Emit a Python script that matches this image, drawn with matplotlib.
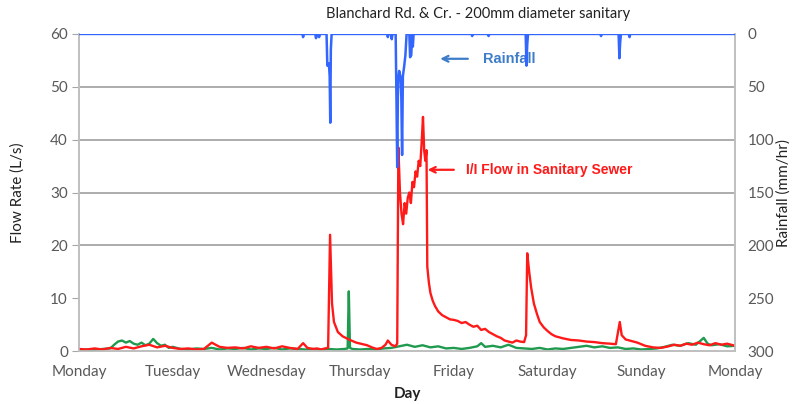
import matplotlib
matplotlib.use("Agg")
import matplotlib.pyplot as plt
import numpy as np

# (hours since Monday 00:00, flow L/s)
ii_flow = [
    (0, 0.4), (2, 0.3), (4, 0.5), (6, 0.3), (8, 0.6), (10, 0.4), (12, 0.8), (14, 0.5),
    (16, 0.9), (18, 1.2), (20, 0.7), (22, 1.0), (24, 0.6), (26, 0.4), (28, 0.5), (30, 0.3),
    (32, 0.4), (34, 1.6), (36, 0.8), (38, 0.6), (40, 0.7), (42, 0.5), (44, 0.9), (46, 0.6),
    (48, 0.8), (50, 0.5), (52, 0.9), (54, 0.6), (56, 0.4), (57.4, 1.5), (58.5, 0.6), (60, 0.4),
    (61, 0.5), (62, 0.3), (63, 0.5), (63.8, 0.6), (64.3, 22.0), (64.8, 9.0), (65.3, 5.5),
    (66.3, 3.6), (67.5, 2.8), (69.4, 2.1), (71, 1.6), (73.8, 1.1), (75, 0.7), (76.3, 0.4),
    (77.5, 0.6), (78.5, 1.2), (79.1, 2.0), (80.0, 1.2), (81.0, 0.9), (81.5, 1.4),
    (81.8, 38.5), (82.2, 30), (82.6, 26), (83.0, 24), (83.4, 28), (83.8, 26), (84.2, 29),
    (84.6, 30), (85.0, 28), (85.4, 32), (85.8, 31), (86.2, 34), (86.6, 33), (87.0, 36),
    (87.4, 35), (87.8, 40), (88.1, 44.3), (88.4, 38), (88.7, 36), (89.0, 38), (89.2, 16),
    (89.6, 13), (90.0, 11), (90.6, 9.5), (91.2, 8.5), (92, 7.5), (93, 6.8), (94, 6.4),
    (95, 6.0), (96, 5.9), (97, 5.7), (98, 5.3), (99, 5.5), (100, 5.0), (101, 4.6), (102, 4.8),
    (103, 4.0), (104, 4.2), (105, 3.6), (106, 3.2), (107, 2.8), (108, 2.5), (109, 2.0),
    (110, 1.8), (111, 1.6), (112, 2.0), (113, 1.8), (114, 1.7), (114.5, 3.0), (114.8, 18.5),
    (115.3, 15), (115.8, 12), (116.5, 9.0), (117.3, 7.0), (118, 5.5), (119, 4.5), (120, 3.8),
    (121, 3.2), (122, 2.8), (124, 2.4), (126, 2.1), (128, 2.0), (130, 1.8), (132, 1.7),
    (134, 1.5), (136, 1.4), (137.5, 1.3), (138.5, 5.5), (139, 3.0), (140, 2.2), (141, 2.0),
    (143, 1.6), (145, 1.0), (147, 0.7), (149, 0.6), (151, 0.9), (152.5, 1.2), (154, 1.0),
    (155.5, 1.4), (157, 1.2), (158.5, 1.6), (160, 1.3), (161.5, 1.1), (163, 1.5), (164.5, 1.2),
    (166, 1.4), (168, 1.0),
]

base_flow = [
    (0, 0.2), (2, 0.3), (4, 0.2), (6, 0.4), (8, 0.5), (9, 1.2), (10, 1.8), (11, 2.0),
    (12, 1.6), (13, 1.9), (14, 1.4), (15, 1.2), (16, 1.6), (17, 1.1), (18, 1.4), (19, 2.3),
    (20, 1.5), (21, 1.0), (22, 1.2), (23, 0.6), (24, 0.8), (26, 0.4), (28, 0.3), (30, 0.5),
    (32, 0.4), (34, 0.6), (36, 0.3), (38, 0.5), (40, 0.4), (42, 0.6), (44, 0.3), (46, 0.5),
    (48, 0.4), (50, 0.6), (52, 0.3), (54, 0.5), (56, 0.4), (58, 0.3), (60, 0.4), (62, 0.3),
    (64, 0.4), (66, 0.3), (68, 0.4), (68.8, 0.5), (69.1, 11.3), (69.4, 0.6), (70, 0.4),
    (72, 0.3), (74, 0.4), (76, 0.3), (78, 0.5), (80, 0.6), (82, 0.9), (84, 1.2), (86, 0.8),
    (88, 1.1), (90, 0.7), (92, 0.9), (94, 0.5), (96, 0.6), (98, 0.4), (100, 0.6), (102, 0.9),
    (103, 1.5), (104, 0.8), (106, 1.0), (108, 0.7), (110, 1.2), (112, 0.6), (114, 0.5),
    (116, 0.4), (118, 0.6), (120, 0.3), (122, 0.5), (124, 0.4), (126, 0.6), (128, 0.8),
    (130, 1.0), (132, 0.7), (134, 0.9), (136, 0.6), (138, 0.7), (140, 0.4), (142, 0.5),
    (144, 0.3), (146, 0.4), (148, 0.5), (150, 0.8), (152, 1.2), (154, 1.0), (156, 1.5),
    (158, 1.2), (160, 2.5), (161, 1.4), (162, 1.1), (164, 1.3), (166, 0.9), (168, 1.0),
]

# (hours, mm/hr)
rain = [
    (0, 0), (57.2, 0), (57.4, 3), (57.6, 0), (60.5, 0), (60.7, 4), (61.0, 0), (61.3, 0),
    (61.5, 3), (61.7, 0), (63.4, 0), (63.6, 30), (64.0, 28), (64.2, 40), (64.35, 84),
    (64.5, 15), (64.7, 0), (78.9, 0), (79.1, 3), (79.3, 0), (79.9, 0), (80.1, 5), (80.3, 0),
    (81.1, 0), (81.3, 60), (81.5, 126), (81.7, 45), (82.0, 35), (82.3, 40), (82.55, 60),
    (82.75, 114.5), (82.95, 40), (83.3, 30), (83.6, 20), (83.9, 0), (84.6, 0), (84.8, 22),
    (85.1, 20), (85.3, 0), (85.5, 12), (85.7, 0), (100.5, 0), (100.7, 2), (100.9, 0),
    (104.7, 0), (104.9, 2), (105.1, 0), (114.4, 0), (114.6, 30), (114.8, 10), (115.0, 0),
    (133.5, 0), (133.7, 2), (133.9, 0), (138.2, 0), (138.4, 23), (138.6, 8), (138.8, 0),
    (140.8, 0), (141.0, 3), (141.2, 0), (168, 0),
]

day_names = ["Monday", "Tuesday", "Wednesday", "Thursday", "Friday", "Saturday", "Sunday", "Monday"]

ii_t, ii_v = zip(*ii_flow)
base_t, base_v = zip(*base_flow)
rain_t, rain_v = zip(*rain)

font = "Lato"
tick_col = "#595959"
spine_col = "#bfbfbf"

fig = plt.figure(figsize=(7.98, 4.04), dpi=100)
ax = fig.add_axes([0.099, 0.131, 0.822, 0.785])
ax2 = ax.twinx()

for y in [20, 30, 40, 50]:
    ax.axhline(y, color="#a6a6a6", lw=1.3, zorder=0)

ax.plot(base_t, base_v, color="#1f9a4e", lw=1.7, zorder=3)
ax.plot(ii_t, ii_v, color="#ff1a1a", lw=1.7, zorder=4)
ax2.plot(rain_t, rain_v, color="#3366ff", lw=1.8, zorder=5)

ax.set_xlim(0, 168)
ax.set_ylim(0, 60)
ax2.set_ylim(300, 0)
ax.set_xticks(np.arange(0, 169, 24))
ax.set_xticklabels(day_names)
ax.set_yticks(np.arange(0, 61, 10))
ax2.set_yticks(np.arange(0, 301, 50))

for a in (ax, ax2):
    for s in a.spines.values():
        s.set_color(spine_col)
        s.set_linewidth(1.2)
    a.spines["top"].set_visible(False)
    a.tick_params(colors=tick_col, labelsize=11, length=0)
    for lab in a.get_xticklabels() + a.get_yticklabels():
        lab.set_fontfamily(font)
ax.tick_params(axis="y", length=5, color="#a6a6a6", pad=3)
ax.tick_params(axis="x", pad=10)
ax2.tick_params(axis="y", pad=9)

ax.set_xlabel("Day", fontfamily=font, fontsize=11, fontweight="bold", color="#222222", labelpad=6)
ax.set_ylabel("Flow Rate (L/s)", fontfamily=font, fontsize=11, color="#222222", labelpad=18)
ax2.set_ylabel("Rainfall (mm/hr)", fontfamily=font, fontsize=11, color="#222222", labelpad=2)
fig.text(0.599, 0.966, "Blanchard Rd. & Cr. - 200mm diameter sanitary", ha="center", va="center",
         fontfamily=font, fontsize=10.5, color="#222222")

ax.annotate("Rainfall", xy=(92.5, 55.3), xytext=(103.5, 55.3), va="center", ha="left",
            fontfamily="Liberation Sans", fontsize=10.5, fontweight="bold", color="#3d7cc9",
            arrowprops=dict(arrowstyle="->", color="#3d7cc9", lw=1.6, shrinkA=9, shrinkB=0))
ax.annotate("I/I Flow in Sanitary Sewer", xy=(89.3, 34.3), xytext=(99.2, 34.3), va="center", ha="left",
            fontfamily="Liberation Sans", fontsize=10, fontweight="bold", color="#ff1a1a",
            arrowprops=dict(arrowstyle="->", color="#ff1a1a", lw=1.6, shrinkA=7, shrinkB=0))

fig.savefig("out.png", dpi=100)
